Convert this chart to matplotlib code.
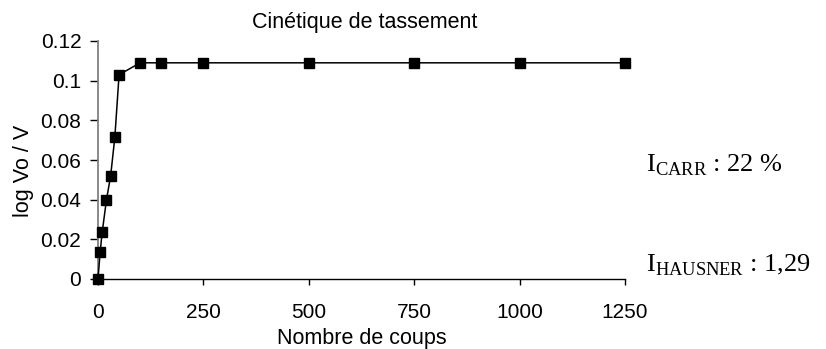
import matplotlib
matplotlib.use("Agg")
import matplotlib.pyplot as plt

# Nombre de coups vs log(Vo/V)
coups = [0, 5, 10, 20, 30, 40, 50, 100, 150, 250, 500, 750, 1000, 1250]
log_vo_v = [0.0, 0.0134, 0.0237, 0.0398, 0.052, 0.0716, 0.103,
            0.109, 0.109, 0.109, 0.109, 0.109, 0.109, 0.109]
x_ticks = [0, 250, 500, 750, 1000, 1250]
y_ticks = [0, 0.02, 0.04, 0.06, 0.08, 0.1, 0.12]
y_labels = ["0", "0.02", "0.04", "0.06", "0.08", "0.1", "0.12"]

plt.rcParams["font.family"] = ["Liberation Sans", "DejaVu Sans"]
plt.rcParams["mathtext.fontset"] = "custom"
plt.rcParams["mathtext.rm"] = "Liberation Serif"

W, H = 826, 349
fig = plt.figure(figsize=(W / 100, H / 100), dpi=100)
ax = fig.add_axes([98 / W, 1 - 279 / H, (625 - 98) / W, (279 - 41) / H])

ax.plot(coups, log_vo_v, color="black", lw=1.1, marker="s", ms=6.5,
        markerfacecolor="black", markeredgecolor="black", clip_on=False, zorder=3)

ax.set_xlim(0, 1250)
ax.set_ylim(0, 0.12)
ax.set_xticks(x_ticks)
ax.set_yticks(y_ticks)
ax.set_yticklabels(y_labels)
ax.tick_params(axis="both", labelsize=15, direction="out", width=1)
ax.tick_params(axis="x", length=4.5, pad=13)
ax.tick_params(axis="y", length=6, pad=6)

ax.spines[["top", "right"]].set_visible(False)
ax.spines["left"].set_color("#808080")
ax.spines["left"].set_linewidth(1.3)
ax.spines["bottom"].set_linewidth(1)

ax.set_xlabel("Nombre de coups", fontsize=15.5, labelpad=4)
fig.text(23 / W, 1 - 171 / H, "log Vo / V", fontsize=15.5, rotation=90,
         ha="center", va="center")
fig.text(365 / W, 1 - 28 / H, "Cinétique de tassement", fontsize=15.5,
         ha="center", va="baseline")

serif = ["Liberation Serif", "DejaVu Serif"]
fig.text(646 / W, 1 - 171 / H, r"I$_{\mathrm{CARR}}$ : 22 %", fontsize=19,
         family=serif, ha="left", va="baseline")
fig.text(646 / W, 1 - 271 / H, r"I$_{\mathrm{HAUSNER}}$ : 1,29", fontsize=19,
         family=serif, ha="left", va="baseline")

fig.savefig("out.png", dpi=100)
